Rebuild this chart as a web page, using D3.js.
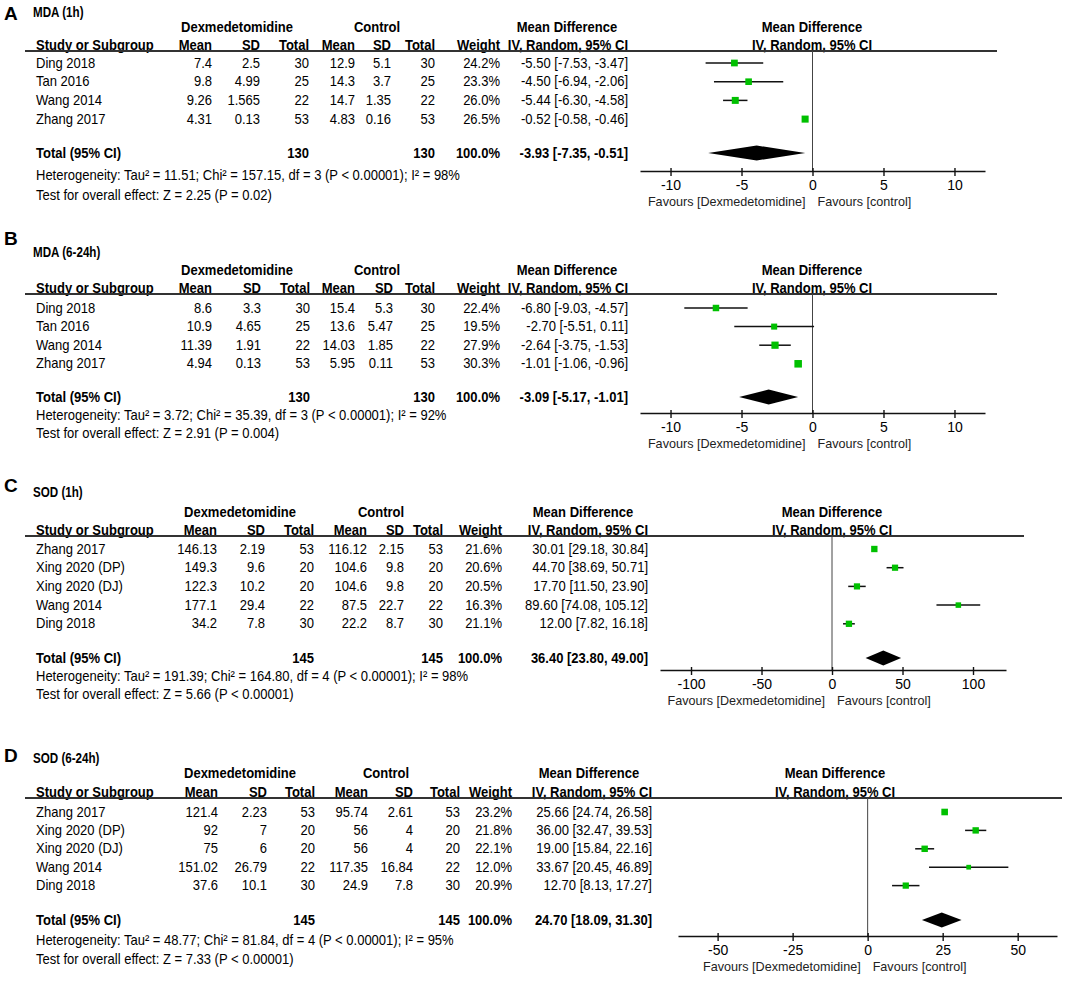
<!DOCTYPE html>
<html>
<head>
<meta charset="utf-8">
<script src="https://cdn.jsdelivr.net/npm/d3@7"></script>
<style>
body { margin: 0; background: #fff; }
svg text { font-family: "Liberation Sans", Arial, sans-serif; fill: #000; }
</style>
</head>
<body>
<div id="chart"></div>
<script>
// Forest plots: MDA / SOD, Dexmedetomidine vs control

// ---- A: MDA (1h)
const studiesA = ['Ding 2018', 'Tan 2016', 'Wang 2014', 'Zhang 2017'];
const dexA = [['7.4', '2.5', 30], ['9.8', '4.99', 25], ['9.26', '1.565', 22], ['4.31', '0.13', 53]];
const ctlA = [['12.9', '5.1', 30], ['14.3', '3.7', 25], ['14.7', '1.35', 22], ['4.83', '0.16', 53]];
const weightA = [24.2, 23.3, 26.0, 26.5];
const mdA = [[-5.50, -7.53, -3.47], [-4.50, -6.94, -2.06], [-5.44, -6.30, -4.58], [-0.52, -0.58, -0.46]];
const totalA = [-3.93, -7.35, -0.51];
const nA = [130, 130];
const statsA = ['Heterogeneity: Tau² = 11.51; Chi² = 157.15, df = 3 (P < 0.00001); I² = 98%',
                'Test for overall effect: Z = 2.25 (P = 0.02)'];
const ticksA = [-10, -5, 0, 5, 10];

// ---- B: MDA (6-24h)
const studiesB = ['Ding 2018', 'Tan 2016', 'Wang 2014', 'Zhang 2017'];
const dexB = [['8.6', '3.3', 30], ['10.9', '4.65', 25], ['11.39', '1.91', 22], ['4.94', '0.13', 53]];
const ctlB = [['15.4', '5.3', 30], ['13.6', '5.47', 25], ['14.03', '1.85', 22], ['5.95', '0.11', 53]];
const weightB = [22.4, 19.5, 27.9, 30.3];
const mdB = [[-6.80, -9.03, -4.57], [-2.70, -5.51, 0.11], [-2.64, -3.75, -1.53], [-1.01, -1.06, -0.96]];
const totalB = [-3.09, -5.17, -1.01];
const nB = [130, 130];
const statsB = ['Heterogeneity: Tau² = 3.72; Chi² = 35.39, df = 3 (P < 0.00001); I² = 92%',
                'Test for overall effect: Z = 2.91 (P = 0.004)'];
const ticksB = [-10, -5, 0, 5, 10];

// ---- C: SOD (1h)
const studiesC = ['Zhang 2017', 'Xing 2020 (DP)', 'Xing 2020 (DJ)', 'Wang 2014', 'Ding 2018'];
const dexC = [['146.13', '2.19', 53], ['149.3', '9.6', 20], ['122.3', '10.2', 20], ['177.1', '29.4', 22], ['34.2', '7.8', 30]];
const ctlC = [['116.12', '2.15', 53], ['104.6', '9.8', 20], ['104.6', '9.8', 20], ['87.5', '22.7', 22], ['22.2', '8.7', 30]];
const weightC = [21.6, 20.6, 20.5, 16.3, 21.1];
const mdC = [[30.01, 29.18, 30.84], [44.70, 38.69, 50.71], [17.70, 11.50, 23.90], [89.60, 74.08, 105.12], [12.00, 7.82, 16.18]];
const totalC = [36.40, 23.80, 49.00];
const nC = [145, 145];
const statsC = ['Heterogeneity: Tau² = 191.39; Chi² = 164.80, df = 4 (P < 0.00001); I² = 98%',
                'Test for overall effect: Z = 5.66 (P < 0.00001)'];
const ticksC = [-100, -50, 0, 50, 100];

// ---- D: SOD (6-24h)
const studiesD = ['Zhang 2017', 'Xing 2020 (DP)', 'Xing 2020 (DJ)', 'Wang 2014', 'Ding 2018'];
const dexD = [['121.4', '2.23', 53], ['92', '7', 20], ['75', '6', 20], ['151.02', '26.79', 22], ['37.6', '10.1', 30]];
const ctlD = [['95.74', '2.61', 53], ['56', '4', 20], ['56', '4', 20], ['117.35', '16.84', 22], ['24.9', '7.8', 30]];
const weightD = [23.2, 21.8, 22.1, 12.0, 20.9];
const mdD = [[25.66, 24.74, 26.58], [36.00, 32.47, 39.53], [19.00, 15.84, 22.16], [33.67, 20.45, 46.89], [12.70, 8.13, 17.27]];
const totalD = [24.70, 18.09, 31.30];
const nD = [145, 145];
const statsD = ['Heterogeneity: Tau² = 48.77; Chi² = 81.84, df = 4 (P < 0.00001); I² = 95%',
                'Test for overall effect: Z = 7.33 (P < 0.00001)'];
const ticksD = [-50, -25, 0, 25, 50];

const svg = d3.select('#chart')
    .append('svg')
    .attr('width', 1072)
    .attr('height', 982);

const green = '#00c000';
const sizeScale = d3.scaleSqrt().domain([0, 30]).range([0, 7.5]);
const f2 = v => v.toFixed(2);

// text is a bit condensed in the original, so draw it taller and squeeze it
function txt(g, x, y, s, size, anchor, bold, sx) {
    return g.append('text')
        .attr('transform', `translate(${x},${y}) scale(${sx || 0.93},1)`)
        .attr('dominant-baseline', 'central')
        .attr('text-anchor', anchor || 'start')
        .attr('font-size', size)
        .attr('font-weight', bold ? 'bold' : 'normal')
        .text(s);
}

function drawPanel(p) {
    const g = svg.append('g');
    const L = p.lay;

    txt(g, 4, L.letterY, p.letter, 19, 'start', true, 1);
    txt(g, 33, L.titleY, p.title, 14, 'start', true, 0.83);

    // header rows
    txt(g, L.dexHdr, L.h1, 'Dexmedetomidine', 14, 'middle', true);
    txt(g, L.ctlHdr, L.h1, 'Control', 14, 'middle', true);
    txt(g, L.mdHdr, L.h1, 'Mean Difference', 14, 'middle', true);
    txt(g, L.rightHdr, L.h1, 'Mean Difference', 14, 'middle', true);

    const heads = ['Mean', 'SD', 'Total', 'Mean', 'SD', 'Total', 'Weight'];
    txt(g, 36, L.h2, 'Study or Subgroup', 14, 'start', true);
    heads.forEach((h, i) => txt(g, L.cols[i], L.h2, h, 14, 'end', true));
    txt(g, L.ci, L.h2, 'IV, Random, 95% CI', 14, 'end', true);
    txt(g, L.rightHdr, L.h2, 'IV, Random, 95% CI', 14, 'middle', true);

    g.append('line')
        .attr('x1', 25).attr('x2', L.lineEnd)
        .attr('y1', L.lineY).attr('y2', L.lineY)
        .attr('stroke', '#333').attr('stroke-width', 1.8);

    const rowY = i => L.row0 + i * L.step;

    // study rows
    p.studies.forEach((s, i) => {
        const y = rowY(i);
        const vals = p.dex[i].concat(p.ctl[i]);
        txt(g, 36, y, s, 14);
        vals.forEach((v, j) => txt(g, L.cols[j], y, v, 14, 'end'));
        txt(g, L.cols[6], y, p.weight[i].toFixed(1) + '%', 14, 'end');
        const m = p.md[i];
        txt(g, L.ci, y, `${f2(m[0])} [${f2(m[1])}, ${f2(m[2])}]`, 14, 'end');
    });

    // total row
    txt(g, 36, L.totalY, 'Total (95% CI)', 14, 'start', true);
    txt(g, L.cols[2], L.totalY, p.n[0], 14, 'end', true);
    txt(g, L.cols[5], L.totalY, p.n[1], 14, 'end', true);
    txt(g, L.cols[6], L.totalY, '100.0%', 14, 'end', true);
    txt(g, L.ci, L.totalY, `${f2(p.total[0])} [${f2(p.total[1])}, ${f2(p.total[2])}]`, 14, 'end', true);

    txt(g, 36, L.hetY, p.stats[0], 14);
    txt(g, 36, L.testY, p.stats[1], 14);

    // forest plot
    const x = d3.scaleLinear().domain(L.domain).range([L.x0, L.x1]);

    g.append('line')
        .attr('x1', x(0)).attr('x2', x(0))
        .attr('y1', L.lineY).attr('y2', L.axisY)
        .attr('stroke', '#444').attr('stroke-width', 1);

    const axisG = g.append('g')
        .attr('transform', `translate(0,${L.axisY})`)
        .call(d3.axisBottom(x).tickValues(p.ticks).tickSize(5).tickSizeOuter(0).tickPadding(4)
            .tickFormat(d => String(d)));
    axisG.select('.domain').attr('stroke', '#111').attr('stroke-width', 1.6);
    axisG.selectAll('.tick line').attr('y1', -3).attr('y2', 5).attr('stroke', '#111').attr('stroke-width', 1.4);
    axisG.selectAll('.tick text').attr('font-size', 14).attr('fill', '#000');

    txt(g, x(0) - 7, L.axisY + 30, 'Favours [Dexmedetomidine]', 13, 'end', false, 0.97).style('fill', '#222');
    txt(g, x(0) + 5, L.axisY + 30, 'Favours [control]', 13, 'start', false, 0.97).style('fill', '#222');

    g.selectAll('.ci')
        .data(p.md)
        .join('line')
        .attr('x1', d => x(d[1])).attr('x2', d => x(d[2]))
        .attr('y1', (d, i) => rowY(i)).attr('y2', (d, i) => rowY(i))
        .attr('stroke', '#111').attr('stroke-width', 1.5);

    g.selectAll('.sq')
        .data(p.md)
        .join('rect')
        .attr('width', (d, i) => sizeScale(p.weight[i]))
        .attr('height', (d, i) => sizeScale(p.weight[i]))
        .attr('x', (d, i) => x(d[0]) - sizeScale(p.weight[i]) / 2)
        .attr('y', (d, i) => rowY(i) - sizeScale(p.weight[i]) / 2)
        .attr('fill', green);

    const t = p.total;
    g.append('path')
        .attr('d', d3.line()([[x(t[1]), L.totalY], [x(t[0]), L.totalY - 7.5],
                             [x(t[2]), L.totalY], [x(t[0]), L.totalY + 7.5]]) + 'Z')
        .attr('fill', '#000');
}

drawPanel({
    letter: 'A', title: 'MDA (1h)', studies: studiesA, dex: dexA, ctl: ctlA, weight: weightA,
    md: mdA, total: totalA, n: nA, stats: statsA, ticks: ticksA,
    lay: { letterY: 13, titleY: 12, h1: 27, h2: 45, lineY: 51, row0: 63, step: 18.7,
           totalY: 153, hetY: 175, testY: 195, axisY: 171,
           cols: [212, 260, 309, 355, 391, 435, 500], ci: 628, dexHdr: 237, ctlHdr: 377, mdHdr: 567,
           rightHdr: 812, x0: 640, x1: 985, domain: [-12.15, 12.15], lineEnd: 997 }
});

drawPanel({
    letter: 'B', title: 'MDA (6-24h)', studies: studiesB, dex: dexB, ctl: ctlB, weight: weightB,
    md: mdB, total: totalB, n: nB, stats: statsB, ticks: ticksB,
    lay: { letterY: 238, titleY: 252, h1: 270, h2: 288, lineY: 294, row0: 308, step: 18.6,
           totalY: 397, hetY: 415, testY: 433, axisY: 413,
           cols: [212, 261, 310, 355, 393, 435, 500], ci: 628, dexHdr: 237, ctlHdr: 377, mdHdr: 567,
           rightHdr: 812, x0: 640, x1: 985, domain: [-12.15, 12.15], lineEnd: 997 }
});

drawPanel({
    letter: 'C', title: 'SOD (1h)', studies: studiesC, dex: dexC, ctl: ctlC, weight: weightC,
    md: mdC, total: totalC, n: nC, stats: statsC, ticks: ticksC,
    lay: { letterY: 485, titleY: 492, h1: 512, h2: 530, lineY: 536, row0: 549, step: 18.7,
           totalY: 658, hetY: 676, testY: 694, axisY: 670,
           cols: [217, 265, 314, 367, 404, 443, 502], ci: 648, dexHdr: 240, ctlHdr: 381, mdHdr: 583,
           rightHdr: 832, x0: 660, x1: 1006, domain: [-122, 123.4], lineEnd: 1024 }
});

drawPanel({
    letter: 'D', title: 'SOD (6-24h)', studies: studiesD, dex: dexD, ctl: ctlD, weight: weightD,
    md: mdD, total: totalD, n: nD, stats: statsD, ticks: ticksD,
    lay: { letterY: 755, titleY: 758, h1: 773, h2: 792, lineY: 798, row0: 812, step: 18.4,
           totalY: 920, hetY: 940, testY: 959, axisY: 936,
           cols: [218, 267, 315, 368, 413, 460, 512], ci: 652, dexHdr: 240, ctlHdr: 386, mdHdr: 589,
           rightHdr: 835, x0: 678, x1: 1057, domain: [-63.2, 63.1], lineEnd: 1062 }
});
</script>
</body>
</html>
